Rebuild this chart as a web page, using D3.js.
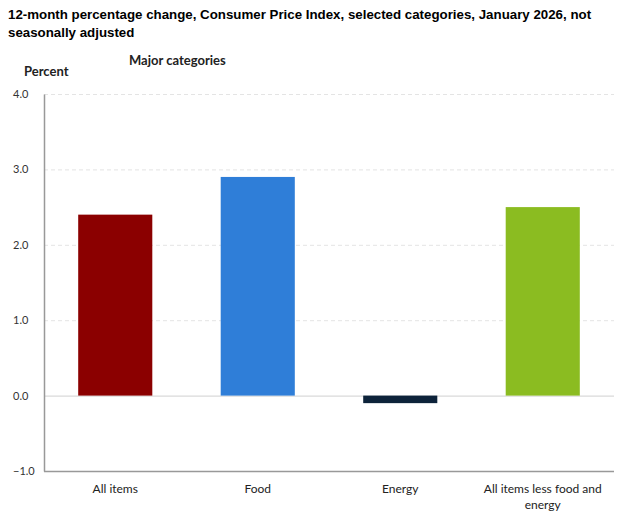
<!DOCTYPE html>
<html>
<head>
<meta charset="utf-8">
<script src="https://cdn.jsdelivr.net/npm/d3@7"></script>
<style>
  body { margin: 0; background: #fff; }
</style>
</head>
<body>
<script>
// values
const categories = ["All items", "Food", "Energy", "All items less food and energy"];
const values = [2.4, 2.9, -0.1, 2.5];
const colors = ["#8b0000", "#2f7ed8", "#0d233a", "#8bbc21"];
const yTicks = [-1.0, 0.0, 1.0, 2.0, 3.0, 4.0];

var w = 624;
var h = 524;
var margin = {top: 94, right: 10, bottom: 52, left: 44};

var svg = d3.select("body")
    .append("svg")
    .attr("width", w)
    .attr("height", h);

svg.append("text")
    .attr("x", 8)
    .attr("y", 19)
    .style("font", "bold 13.3px 'Liberation Sans', Arial, sans-serif")
    .text("12-month percentage change, Consumer Price Index, selected categories, January 2026, not");
svg.append("text")
    .attr("x", 8)
    .attr("y", 37)
    .style("font", "bold 13.3px 'Liberation Sans', Arial, sans-serif")
    .text("seasonally adjusted");

svg.append("text")
    .attr("x", 129)
    .attr("y", 65)
    .style("font", "bold 13px Lato, sans-serif")
    .attr("fill", "#222")
    .text("Major categories");
svg.append("text")
    .attr("x", 24)
    .attr("y", 76)
    .style("font", "bold 13px Lato, sans-serif")
    .attr("fill", "#222")
    .text("Percent");

var xScale = d3.scaleBand()
    .domain(categories)
    .range([margin.left, w - margin.right])
    .paddingInner(0.48)
    .paddingOuter(0.24);

var yScale = d3.scaleLinear()
    .domain([-1, 4])
    .range([h - margin.bottom - 1, margin.top]);

// gridlines
svg.append("g")
    .selectAll("line")
    .data(yTicks.filter(function(d) { return d > -1; }))
    .enter()
    .append("line")
    .attr("x1", margin.left)
    .attr("x2", w - margin.right)
    .attr("y1", function(d) { return yScale(d) + 0.5; })
    .attr("y2", function(d) { return yScale(d) + 0.5; })
    .attr("stroke", function(d) { return d === 0 ? "#d0d0d0" : "#e4e4e4"; })
    .attr("stroke-dasharray", function(d) { return d === 0 ? null : "4,3"; });

// bars
svg.append("g")
    .selectAll("rect")
    .data(values)
    .enter()
    .append("rect")
    .attr("x", function(d, i) { return xScale(categories[i]); })
    .attr("y", function(d) { return yScale(Math.max(d, 0)); })
    .attr("width", xScale.bandwidth())
    .attr("height", function(d) { return Math.abs(yScale(d) - yScale(0)); })
    .attr("fill", function(d, i) { return colors[i]; });

// y axis
var yAxis = d3.axisLeft(yScale)
    .tickValues(yTicks)
    .tickFormat(d3.format(".1f"))
    .tickSize(0)
    .tickPadding(13);

var gy = svg.append("g")
    .attr("transform", "translate(" + margin.left + ",0)")
    .call(yAxis);
gy.select(".domain").attr("stroke", "#999").attr("stroke-width", 1.5);
gy.selectAll("text")
    .style("font", "11px Lato, sans-serif")
    .attr("fill", "#333")
    .attr("text-anchor", "start")
    .attr("x", -31);

// x axis line
svg.append("line")
    .attr("x1", margin.left)
    .attr("x2", w - margin.right)
    .attr("y1", yScale(-1) + 0.5)
    .attr("y2", yScale(-1) + 0.5)
    .attr("stroke", "#999")
    .attr("stroke-width", 1.5);

// category labels, wrapped like the original
var lines = [["All items"], ["Food"], ["Energy"], ["All items less food and", "energy"]];
var labels = svg.append("g")
    .selectAll("text")
    .data(categories)
    .enter()
    .append("text")
    .attr("x", function(d) { return xScale(d) + xScale.bandwidth() / 2; })
    .attr("y", yScale(-1) + 22)
    .attr("text-anchor", "middle")
    .style("font", "12px Lato, sans-serif")
    .attr("fill", "#222");

labels.each(function(d, i) {
    d3.select(this).selectAll("tspan")
        .data(lines[i])
        .enter()
        .append("tspan")
        .attr("x", xScale(d) + xScale.bandwidth() / 2)
        .attr("dy", function(t, j) { return j === 0 ? 0 : 16; })
        .text(function(t) { return t; });
});
</script>
</body>
</html>
